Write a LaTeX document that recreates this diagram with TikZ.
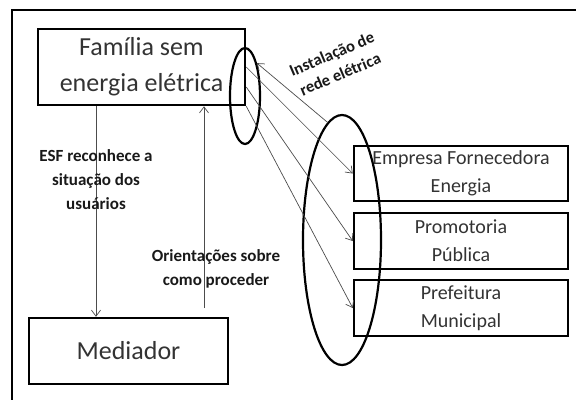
\documentclass[tikz,border=0pt]{standalone}
\usepackage{fontspec}
\setmainfont{Carlito}
\usetikzlibrary{shapes.geometric,arrows.meta}
\begin{document}
\begin{tikzpicture}[x=1pt,y=-1pt,
 box/.style={draw=black,line width=2.5pt,inner sep=0pt,align=center,text=black!80},
 ring/.style={draw=black,line width=2.2pt,ellipse,inner sep=0pt},
 arr/.style={draw=black!70,line width=0.7pt,-{Straight Barb[length=6pt,width=9pt]}},
 lbl/.style={font=\bfseries\fontsize{17}{24}\selectfont,align=center,text=black!90,inner sep=0pt}]
\useasboundingbox (0,0) rectangle (576,400);
\draw[line width=2pt] (576,10) -- (12,10) -- (12,400);

\node[box,minimum width=207pt,minimum height=76pt,font=\fontsize{26}{36}\selectfont] (fam) at (141.5,67) {Família sem\\energia elétrica};
\node[box,minimum width=199pt,minimum height=66pt,font=\fontsize{26}{30}\selectfont] (med) at (128.5,351) {Mediador};
\node[box,minimum width=214pt,minimum height=55pt,font=\fontsize{20}{28}\selectfont] (emp) at (461,173.5) {Empresa Fornecedora\\Energia};
\node[box,minimum width=214pt,minimum height=56pt,font=\fontsize{20}{28}\selectfont] (pro) at (461,241) {Promotoria\\Pública};
\node[box,minimum width=214pt,minimum height=56pt,font=\fontsize{20}{28}\selectfont] (pre) at (461,308) {Prefeitura\\Municipal};

\node[ring,minimum width=30pt,minimum height=96pt] (sm) at (245,96) {};
\node[ring,minimum width=78pt,minimum height=250pt] (big) at (342,240) {};

\draw[arr] (fam.east) -- (emp.west);
\draw[arr] ([yshift=-20pt]fam.east) -- (pro.west);
\draw[arr] (fam.south east) -- (pre.west);
\draw[arr] (big.97) -- (sm.70);

\draw[arr] ([xshift=-45.5pt]fam.south) -- ([xshift=-45.5pt]fam.south |- med.north);
\coordinate (u0) at (204,308);
\draw[arr] (u0) -- (u0 |- fam.south);

\node[lbl] (esf) at (96,180) {ESF reconhece a\\situação dos\\usuários};
\node[lbl] (ori) at (216,269) {Orientações sobre\\como proceder};
\node[lbl,font=\bfseries\fontsize{16.5}{22}\selectfont,rotate=23] (ins) at (336,64) {Instalação de\\rede elétrica};
\end{tikzpicture}
\end{document}
